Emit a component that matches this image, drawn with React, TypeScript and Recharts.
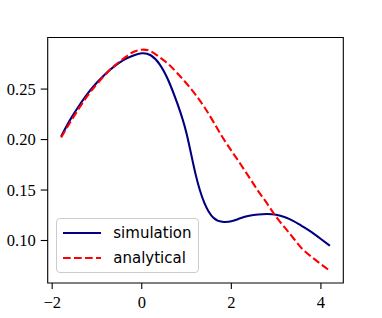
import { LineChart, Line, XAxis, YAxis, ReferenceArea, Legend } from "recharts"

// sample positions and the two curves
const xs = [
  -1.8, -1.6, -1.4, -1.2, -1.0, -0.8, -0.6, -0.4, -0.2, 0.0, 0.2, 0.4, 0.6, 0.8, 1.0, 1.2,
  1.4, 1.6, 1.8, 2.0, 2.2, 2.4, 2.6, 2.8, 3.0, 3.2, 3.4, 3.6, 3.8, 4.0, 4.2,
]
const simulation = [
  0.203, 0.2195, 0.2335, 0.246, 0.2565, 0.2655, 0.273, 0.279, 0.283, 0.2855, 0.2835, 0.2745, 0.258,
  0.235, 0.206, 0.166, 0.137, 0.1225, 0.1185, 0.119, 0.122, 0.1245, 0.1258, 0.1262, 0.1255, 0.123,
  0.119, 0.1137, 0.108, 0.1015, 0.0948,
]
const analytical = [
  0.202, 0.217, 0.231, 0.244, 0.255, 0.265, 0.2735, 0.2805, 0.2865, 0.289, 0.2875, 0.2815, 0.2745,
  0.2655, 0.2555, 0.2445, 0.232, 0.2175, 0.2025, 0.189, 0.176, 0.1625, 0.149, 0.1365, 0.1235, 0.1125,
  0.1015, 0.091, 0.0835, 0.0765, 0.07,
]
const xTicks = [-2, 0, 2, 4]
const yTicks = [0.1, 0.15, 0.2, 0.25]

const X_DOMAIN: [number, number] = [-2.1, 4.5]
const Y_DOMAIN: [number, number] = [0.0579, 0.3011]

const data = xs.map((x, i) => ({ x, simulation: simulation[i], analytical: analytical[i] }))

const tickStyle = { fontFamily: "Liberation Serif", fontSize: 16.5, fill: "#000" }

function LegendBox() {
  const rows = [
    { label: "simulation", color: "#000080", dash: undefined, top: 14.4 },
    { label: "analytical", color: "#ff0000", dash: "7.7 3.3", top: 39.4 },
  ]
  return (
    <div
      style={{
        position: "relative",
        width: 143,
        height: 55,
        boxSizing: "border-box",
        border: "1px solid #cccccc",
        borderRadius: 4,
        background: "rgba(255,255,255,0.8)",
        fontFamily: "DejaVu Sans",
        fontSize: 15,
        color: "#000",
      }}
    >
      {rows.map((r) => (
        <div key={r.label}>
          <svg
            width={38}
            height={6}
            style={{ position: "absolute", left: 5.7, top: r.top - 4 }}
          >
            <line x1={0} y1={3} x2={38} y2={3} stroke={r.color} strokeWidth={2.1} strokeDasharray={r.dash} />
          </svg>
          <span
            style={{
              position: "absolute",
              left: 56.3,
              top: r.top - 10,
              lineHeight: "18px",
              whiteSpace: "nowrap",
            }}
          >
            {r.label}
          </span>
        </div>
      ))}
    </div>
  )
}

export default function App() {
  return (
    <div style={{ position: "absolute", left: 0, top: 0, background: "#fff" }}>
      <LineChart
        width={382}
        height={318}
        data={data}
        margin={{ top: 37.5, right: 38.7, left: 0, bottom: 5 }}
      >
        <XAxis
          dataKey="x"
          type="number"
          domain={X_DOMAIN}
          ticks={xTicks}
          allowDataOverflow
          axisLine={false}
          tickSize={6}
          tickMargin={7}
          height={30}
          tick={tickStyle}
          tickLine={{ stroke: "#000", strokeWidth: 1.1 }}
          tickFormatter={(v: number) => String(v).replace("-", "\u2212")}
        />
        <YAxis
          type="number"
          domain={Y_DOMAIN}
          ticks={yTicks}
          allowDataOverflow
          axisLine={false}
          width={47.7}
          tickSize={7}
          tickMargin={5}
          tick={tickStyle}
          tickLine={{ stroke: "#000", strokeWidth: 1.1 }}
          tickFormatter={(v: number) => v.toFixed(2)}
        />
        <ReferenceArea
          x1={X_DOMAIN[0]}
          x2={X_DOMAIN[1]}
          y1={Y_DOMAIN[0]}
          y2={Y_DOMAIN[1]}
          fill="none"
          stroke="#000"
          strokeWidth={1.1}
          ifOverflow="visible"
        />
        <Line
          type="natural"
          dataKey="simulation"
          stroke="#000080"
          strokeWidth={2.1}
          dot={false}
          isAnimationActive={false}
        />
        <Line
          type="natural"
          dataKey="analytical"
          stroke="#ff0000"
          strokeWidth={2.1}
          strokeDasharray="7.7 3.3"
          dot={false}
          isAnimationActive={false}
        />
        <Legend
          layout="vertical"
          align="center"
          verticalAlign="middle"
          content={() => <LegendBox />}
          wrapperStyle={{ left: 56, top: 218.3, width: 143, height: 55 }}
        />
      </LineChart>
    </div>
  )
}
